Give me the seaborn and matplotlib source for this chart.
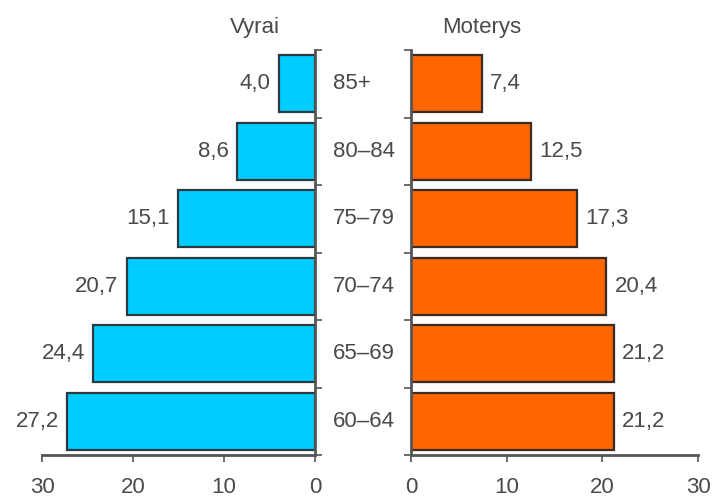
import matplotlib
matplotlib.use("Agg")
import matplotlib.pyplot as plt
import matplotlib.transforms as mtransforms
import seaborn as sns
import pandas as pd

# Age groups (top to bottom) and shares per sex
ages = ["85+", "80–84", "75–79", "70–74", "65–69", "60–64"]
men = [4.0, 8.6, 15.1, 20.7, 24.4, 27.2]
women = [7.4, 12.5, 17.3, 20.4, 21.2, 21.2]
x_ticks = [0, 10, 20, 30]
titles = ["Vyrai", "Moterys"]

sns.set_theme(style="white")
plt.rcParams["font.family"] = ["Liberation Sans", "DejaVu Sans"]

TEXT = "#4a4a4a"
SPINE = "#555555"
FS = 16

df = pd.DataFrame({"age": ages, "men": men, "women": women})

fig = plt.figure(figsize=(7.14, 5.01), dpi=100)
W, H = 714, 501
bottom = 1 - 455 / H
height = 405 / H
ax_l = fig.add_axes([42 / W, bottom, (315 - 42) / W, height])
ax_r = fig.add_axes([411 / W, bottom, (698 - 411) / W, height])

sns.barplot(data=df, y="age", x="men", order=ages, color="#00CCFF",
            saturation=1, width=0.85, edgecolor="#2b3a40", linewidth=1.6, ax=ax_l)
sns.barplot(data=df, y="age", x="women", order=ages, color="#FF6600",
            saturation=1, width=0.85, edgecolor="#3a2a20", linewidth=1.6, ax=ax_r)

ax_l.set_xlim(30, 0)
ax_r.set_xlim(0, 30)

def fmt(v):
    return f"{v:.1f}".replace(".", ",")

ax_l.bar_label(ax_l.containers[0], labels=[fmt(v) for v in men],
               padding=6, fontsize=FS, color=TEXT)
ax_r.bar_label(ax_r.containers[0], labels=[fmt(v) for v in women],
               padding=6, fontsize=FS, color=TEXT)

bounds = [i - 0.5 for i in range(len(ages) + 1)]
for ax, side in ((ax_l, "right"), (ax_r, "left")):
    ax.set_ylim(len(ages) - 0.5, -0.5)
    ax.set_xticks(x_ticks)
    ax.set_xticklabels([str(t) for t in x_ticks])
    ax.set_yticks(bounds)
    ax.set_yticklabels([])
    ax.set_xlabel("")
    ax.set_ylabel("")
    for s in ax.spines.values():
        s.set_visible(False)
    ax.spines["bottom"].set_visible(True)
    ax.spines[side].set_visible(True)
    ax.spines["bottom"].set_color(SPINE)
    ax.spines[side].set_color(SPINE)
    ax.spines["bottom"].set_linewidth(2)
    ax.spines[side].set_linewidth(2)
    ax.tick_params(axis="x", direction="out", length=5, width=1.2,
                   color=SPINE, labelsize=FS, labelcolor=TEXT, pad=11,
                   bottom=True)
    ax.tick_params(axis="y", direction="out", length=5, width=1.2,
                   color=SPINE, left=(side == "left"), right=(side == "right"),
                   labelleft=False, labelright=False)

# Age group labels between the two panels
trans = mtransforms.blended_transform_factory(fig.transFigure, ax_r.transData)
for i, a in enumerate(ages):
    ax_r.text(333 / W, i, a, transform=trans, ha="left", va="center",
              fontsize=FS, color=TEXT, clip_on=False)

fig.text(255 / W, 1 - 28 / H, titles[0], ha="center", va="center",
         fontsize=FS, color=TEXT)
fig.text(482 / W, 1 - 28 / H, titles[1], ha="center", va="center",
         fontsize=FS, color=TEXT)

fig.savefig("out.png", dpi=100)
